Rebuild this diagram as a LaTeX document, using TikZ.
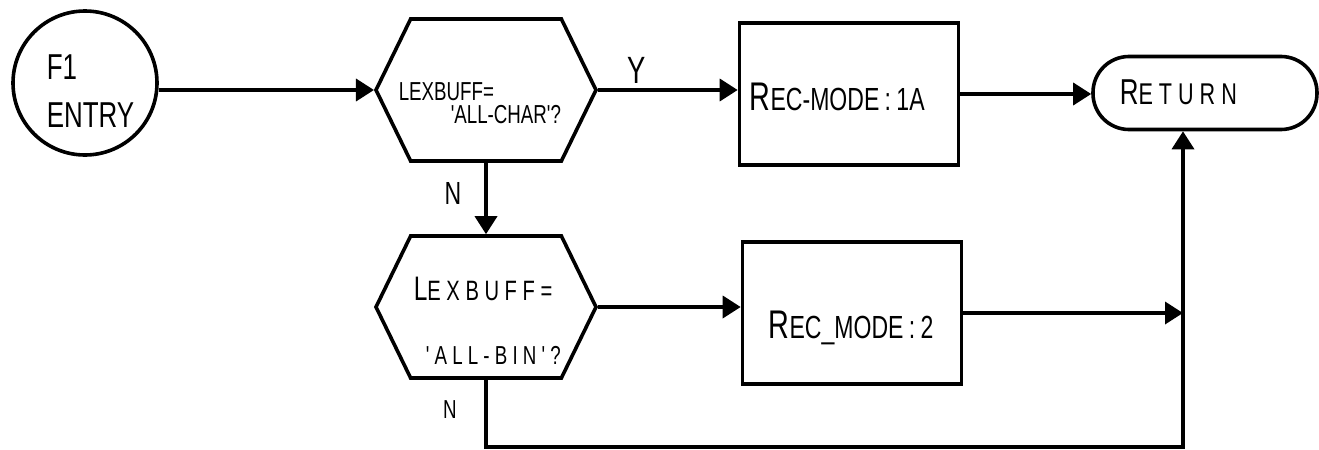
\documentclass[tikz,border=0pt]{standalone}
\usepackage{fontspec}
\setmainfont{Liberation Sans}
\newfontfamily\hand[FakeStretch=0.72]{Liberation Sans}
\newfontfamily\handwide[FakeStretch=0.72,LetterSpace=20]{Liberation Sans}
\usetikzlibrary{arrows.meta,shapes.symbols}

\begin{document}
\begin{tikzpicture}[x=0.25pt,y=-0.25pt,>={Triangle[length=4.5pt,width=5.5pt]},line width=0.9pt,
  decision/.style={draw,signal,signal to=west and east,signal pointer angle=128,minimum width=55pt,minimum height=35.5pt,inner sep=0pt},
  action/.style={draw,minimum width=54.75pt,minimum height=35.5pt,inner sep=0pt}]
\useasboundingbox (0,0) rectangle (1319,450);
\node[draw,circle,minimum size=36pt,inner sep=0pt] (entry) at (85,83) {};
\node[decision] (hex1) at (486,90) {};
\node[decision] (hex2) at (486,307) {};
\node[action] (box1) at (849,94) {};
\node[action] (box2) at (852,313) {};
\node[draw,rounded corners=9pt,minimum width=56pt,minimum height=18.25pt,inner sep=0pt] (ret) at (1205,93) {};
\coordinate (rail) at (1183,447);
% texts
\node[anchor=base west,align=left,inner sep=0pt,font=\fontsize{9}{12}\hand] (entrytxt) at (45,127) {F1\\ENTRY};
\node[anchor=base west,align=left,inner sep=0pt,font=\fontsize{6.5}{5.75}\hand] (hex1txt) at (397,123) {LEXBUFF=\\\hspace*{13pt}'ALL-CHAR'?};
\node[anchor=base west,align=left,inner sep=0pt,font=\fontsize{7}{16}\handwide] (hex2txt) at (412,364) {{\fontsize{8.5}{16}\selectfont L}EXBUFF=\\\hspace*{3pt}{\fontsize{6.5}{16}\selectfont'ALL-BIN'?}};
\node[anchor=base west,inner sep=0pt,font=\fontsize{8}{10}\hand] (box1txt) at (748,110) {{\fontsize{10}{12}\selectfont R}EC-MODE\,:\,1A};
\node[anchor=base west,inner sep=0pt,font=\fontsize{8}{10}\hand] (box2txt) at (767,338) {{\fontsize{10}{12}\selectfont R}EC\_MODE\,:\,2};
\node[anchor=base west,inner sep=0pt,font=\fontsize{7.5}{10}\handwide] (rettxt) at (1118,105) {{\fontsize{9}{12}\selectfont R}ETURN};
\node[font=\fontsize{9.5}{12}\hand] (ylab) at (637,70) {Y};
\node[font=\fontsize{8}{10}\hand] (nlab1) at (453,193) {N};
\node[font=\fontsize{6.5}{10}\hand] (nlab2) at (450,410) {N};
% connectors
\draw[->] (hex1.west -| entry.east) -- (hex1.west);
\draw[->] (hex1.east) -- (hex1.east -| box1.west);
\draw[->] (box1.east) -- (box1.east -| ret.west);
\draw[->] (hex1.south) -- (hex2.north);
\draw[->] (hex2.east) -- (hex2.east -| box2.west);
\draw[->] (box2.east) -- (box2.east -| rail);
\draw[->] (hex2.south) |- (rail) -- (rail |- ret.south);
\end{tikzpicture}
\end{document}
